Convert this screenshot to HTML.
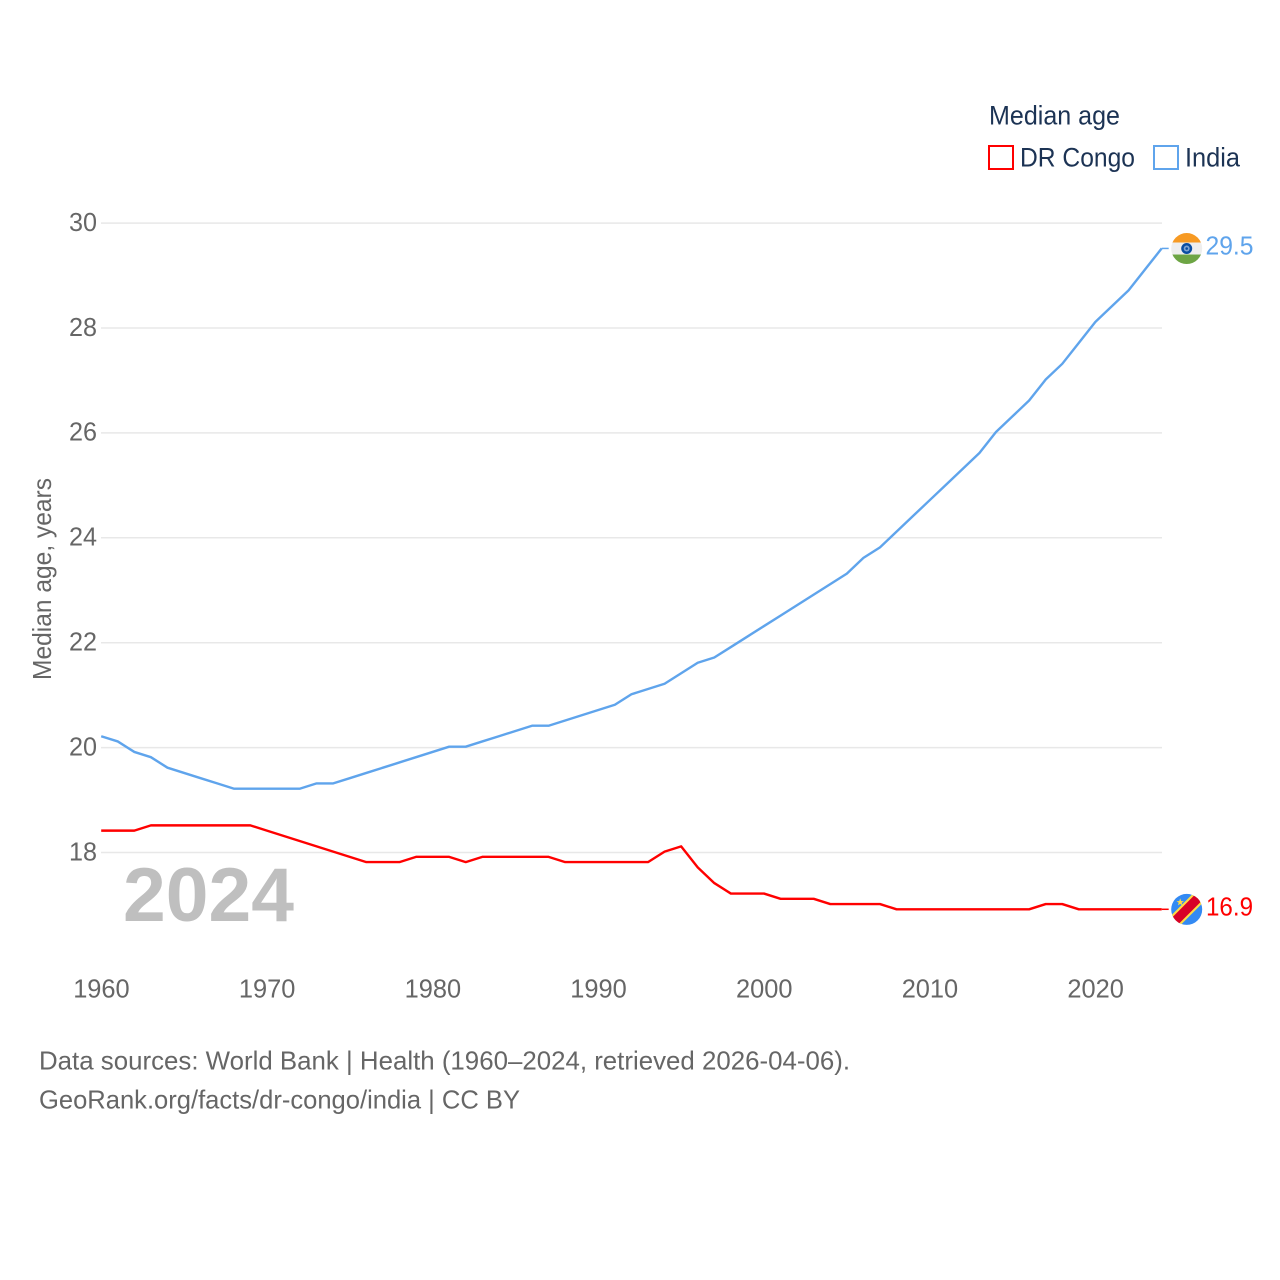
<!DOCTYPE html>
<html lang="en">
<head>
<meta charset="utf-8">
<title>Median age: DR Congo and India</title>
<style>
html,body{margin:0;padding:0;background:#fff}
svg{display:block}
text{font-family:"Liberation Sans",sans-serif}
</style>
</head>
<body>
<svg id="chart" xmlns="http://www.w3.org/2000/svg" width="1280" height="1280" viewBox="0 0 1280 1280">
  <defs>
    <clipPath id="clip-india"><circle cx="0" cy="0" r="15.5"/></clipPath>
    <clipPath id="clip-congo"><circle cx="0" cy="0" r="15.5"/></clipPath>
  </defs>
  <g id="grid"></g>
  <g id="y-ticks"></g>
  <g id="x-ticks"></g>
  <text transform="translate(51,680) rotate(-90)" font-size="26" fill="#666" textLength="202" lengthAdjust="spacingAndGlyphs">Median age, years</text>
  <text x="123" y="921" font-size="76" font-weight="bold" fill="#bfbfbf" textLength="171" lengthAdjust="spacingAndGlyphs">2024</text>
  <g id="series"></g>
  <g id="flag-india">
    <g clip-path="url(#clip-india)">
      <rect x="-16" y="-16" width="32" height="10" fill="#f79a23"/>
      <rect x="-16" y="-6" width="32" height="12" fill="#eeeeee"/>
      <rect x="-16" y="6" width="32" height="10" fill="#6da544"/>
      <circle cx="0" cy="0" r="5.5" fill="#0a4ea2"/>
      <circle cx="0" cy="0" r="3" fill="#7ea3d2"/>
      <circle cx="0" cy="0" r="1.3" fill="#0a4ea2"/>
    </g>
  </g>
  <g id="flag-congo">
    <g clip-path="url(#clip-congo)">
      <rect x="-16" y="-16" width="32" height="32" fill="#338af3"/>
      <polygon points="-18,8.5 8.5,-18 18,-18 18,-8.5 -8.5,18 -18,18" fill="#ffda44"/>
      <polygon points="-18,11.5 11.5,-18 18,-18 18,-11.5 -11.5,18 -18,18" fill="#d80027"/>
      <polygon points="-6.5,-11 -5.5,-8.3 -2.8,-8.3 -5,-6.6 -4.2,-4 -6.5,-5.5 -8.8,-4 -8,-6.6 -10.2,-8.3 -7.5,-8.3" fill="#ffda44"/>
    </g>
  </g>
  <text id="label-india" x="1205.5" y="255" font-size="26" fill="#5fa4ec" textLength="48" lengthAdjust="spacingAndGlyphs"></text>
  <text id="label-congo" x="1206" y="916" font-size="26" fill="#ff0000" textLength="47" lengthAdjust="spacingAndGlyphs"></text>

  <g>
    <text x="989" y="124.5" font-size="26.5" fill="#1c3354" textLength="131" lengthAdjust="spacingAndGlyphs">Median age</text>
    <g>
      <rect x="989" y="146" width="24" height="23" fill="none" stroke="#ff0000" stroke-width="2"/>
      <text x="1020" y="166.5" font-size="26.5" fill="#1c3354" textLength="115" lengthAdjust="spacingAndGlyphs">DR Congo</text>
    </g>
    <g>
      <rect x="1154" y="146" width="24" height="23" fill="none" stroke="#5fa4ec" stroke-width="2"/>
      <text x="1185" y="166.5" font-size="26.5" fill="#1c3354" textLength="55" lengthAdjust="spacingAndGlyphs">India</text>
    </g>
  </g>
  <text x="39" y="1069.5" font-size="26" fill="#666" textLength="811" lengthAdjust="spacingAndGlyphs">Data sources: World Bank | Health (1960–2024, retrieved 2026-04-06).</text>
  <text x="39" y="1108.5" font-size="26" fill="#666" textLength="481" lengthAdjust="spacingAndGlyphs">GeoRank.org/facts/dr-congo/india | CC BY</text>
</svg>
<script>
var startYear = 1960;
var indiaValues = [20.2,20.1,19.9,19.8,19.6,19.5,19.4,19.3,19.2,19.2,19.2,19.2,19.2,19.3,19.3,19.4,19.5,19.6,19.7,19.8,19.9,20.0,20.0,20.1,20.2,20.3,20.4,20.4,20.5,20.6,20.7,20.8,21.0,21.1,21.2,21.4,21.6,21.7,21.9,22.1,22.3,22.5,22.7,22.9,23.1,23.3,23.6,23.8,24.1,24.4,24.7,25.0,25.3,25.6,26.0,26.3,26.6,27.0,27.3,27.7,28.1,28.4,28.7,29.1,29.5];
var congoValues = [18.4,18.4,18.4,18.5,18.5,18.5,18.5,18.5,18.5,18.5,18.4,18.3,18.2,18.1,18.0,17.9,17.8,17.8,17.8,17.9,17.9,17.9,17.8,17.9,17.9,17.9,17.9,17.9,17.8,17.8,17.8,17.8,17.8,17.8,18.0,18.1,17.7,17.4,17.2,17.2,17.2,17.1,17.1,17.1,17.0,17.0,17.0,17.0,16.9,16.9,16.9,16.9,16.9,16.9,16.9,16.9,16.9,17.0,17.0,16.9,16.9,16.9,16.9,16.9,16.9];
var yTickValues = [18,20,22,24,26,28,30];
var xTickValues = [1960,1970,1980,1990,2000,2010,2020];

var NS = 'http://www.w3.org/2000/svg';
function xScale(year) { return 101.2 + (year - 1960) * 16.57; }
function yScale(v) { return 852.5 - (v - 18) * 52.45; }
function yLine(v) { return yScale(v) - 0.9; }

function make(tag, attrs, parent) {
  var el = document.createElementNS(NS, tag);
  for (var k in attrs) el.setAttribute(k, attrs[k]);
  parent.appendChild(el);
  return el;
}

var gridG = document.getElementById('grid');
var yG = document.getElementById('y-ticks');
var xG = document.getElementById('x-ticks');
var seriesG = document.getElementById('series');

yTickValues.forEach(function (v) {
  var line = make('line', {x1: 101, x2: 1162, y1: yScale(v), y2: yScale(v), stroke: '#e8e8e8', 'stroke-width': 1.5}, gridG);
  
  
  var t = make('text', {x: 69, y: yScale(v) + 7.8, 'font-size': 26, fill: '#666', textLength: 28, lengthAdjust: 'spacingAndGlyphs'}, yG);
  
  
  t.textContent = String(v);
});

xTickValues.forEach(function (yr) {
  var t = make('text', {x: xScale(yr) - 28, y: 997.5, 'font-size': 26, fill: '#666', textLength: 56.5, lengthAdjust: 'spacingAndGlyphs'}, xG);
  
  
  t.textContent = String(yr);
});

function pathFor(values) {
  return values.map(function (v, i) {
    return (i ? 'L' : 'M') + xScale(startYear + i).toFixed(2) + ' ' + yLine(v).toFixed(2);
  }).join(' ');
}

var lineIndia = make('path', {d: pathFor(indiaValues), fill: 'none', stroke: '#5fa4ec', 'stroke-width': 2.4, 'stroke-linejoin': 'round'}, seriesG);


var lineCongo = make('path', {d: pathFor(congoValues), fill: 'none', stroke: '#ff0000', 'stroke-width': 2.4, 'stroke-linejoin': 'round'}, seriesG);



function finish(values, color, flagId, labelId, leaderName) {
  var last = values[values.length - 1];
  var ex = xScale(startYear + values.length - 1);
  var ey = yLine(last);
  var leader = make('line', {x1: ex, x2: ex + 7, y1: ey, y2: ey, stroke: color, 'stroke-width': 1.5}, seriesG);
  
  
  document.getElementById(flagId).setAttribute('transform', 'translate(1186.7,' + (ey + 0.1) + ')');
  var lab = document.getElementById(labelId);
  lab.setAttribute('y', ey + 6.2);
  lab.textContent = last.toFixed(1);
}
finish(indiaValues, '#5fa4ec', 'flag-india', 'label-india', 'india-leader-line');
finish(congoValues, '#ff0000', 'flag-congo', 'label-congo', 'dr-congo-leader-line');
</script>
</body>
</html>
